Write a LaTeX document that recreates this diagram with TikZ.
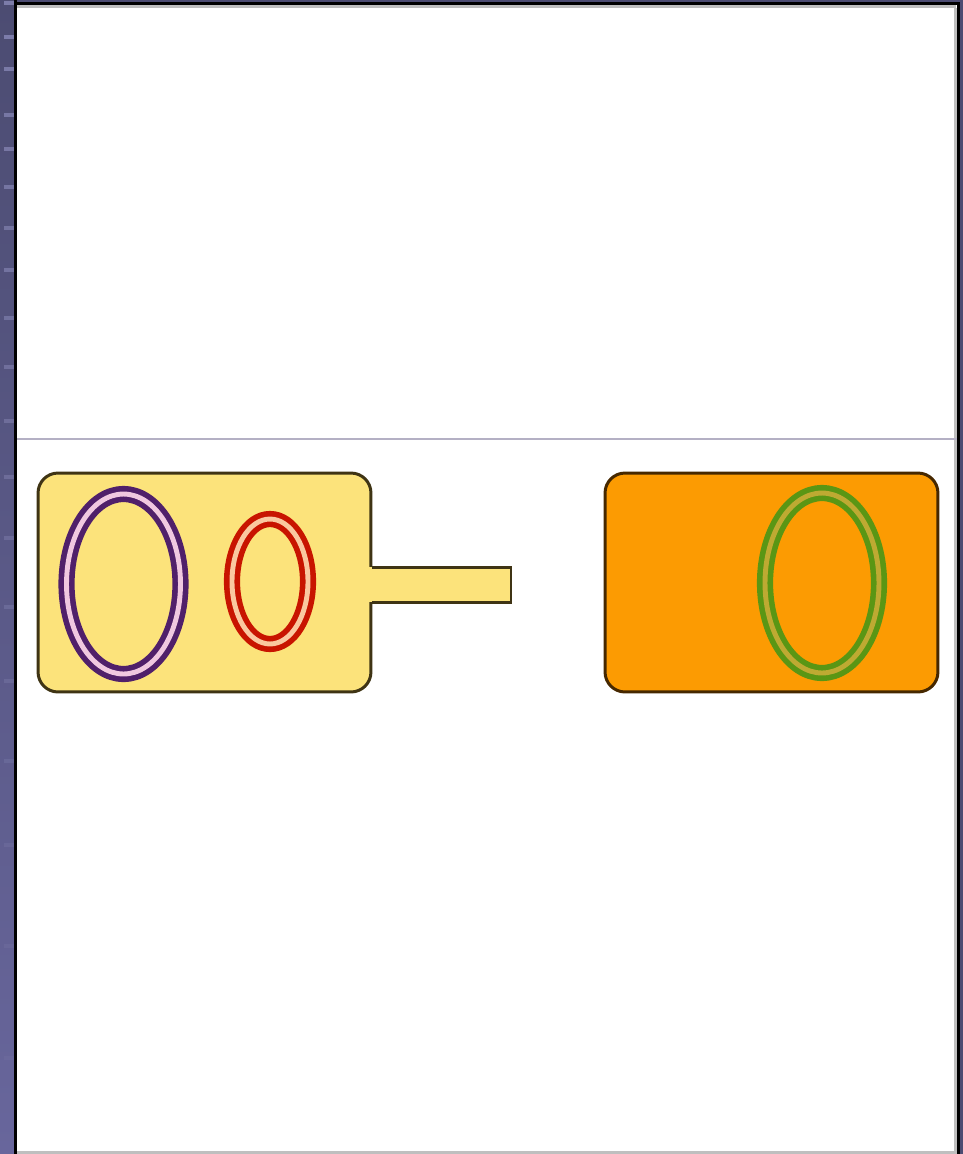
\documentclass[tikz,border=0pt]{standalone}
\usepackage{tikz}
\usetikzlibrary{shapes.geometric, positioning}
\definecolor{stripTop}{HTML}{4C4C72}
\definecolor{stripBot}{HTML}{68669C}
\definecolor{tickCol}{HTML}{8282B0}
\definecolor{ruleCol}{HTML}{B4B0C4}
\definecolor{yellowFill}{HTML}{FCE37B}
\definecolor{yellowLine}{HTML}{3F3414}
\definecolor{orangeFill}{HTML}{FC9B02}
\definecolor{orangeLine}{HTML}{462800}
\definecolor{purpleRing}{HTML}{50206A}
\definecolor{purpleGap}{HTML}{F0C8E0}
\definecolor{redRing}{HTML}{C81400}
\definecolor{redGap}{HTML}{FAC8A0}
\definecolor{greenRing}{HTML}{5A9614}
\definecolor{greenGap}{HTML}{BEAA32}
\tikzset{
    box/.style = {rectangle, rounded corners=0.4cm, minimum width=6.66cm, minimum height=4.38cm, inner sep=0pt, line width=1.7pt},
    yellowbox/.style = {box, draw=yellowLine, fill=yellowFill},
    orangebox/.style = {box, draw=orangeLine, fill=orangeFill},
    ring/.style = {ellipse, inner sep=0pt, line width=3.2pt, double distance=2.8pt},
    bigring/.style = {ring, minimum width=2.28cm, minimum height=3.6cm},
    smallring/.style = {ring, minimum width=1.52cm, minimum height=2.5cm}
}
\begin{document}
\begin{tikzpicture}[x=0.02cm, y=-0.02cm]
    \useasboundingbox (0,0) rectangle (963,1154);
    % frame
    \fill[white] (0,0) rectangle (963,1154);
    \shade[top color=stripTop, bottom color=stripBot] (0,0) rectangle (14,1154);
    \foreach \ty/\op in {3/0.9, 37/0.9, 69/0.85, 115/0.8, 149/0.8, 187/0.75, 228/0.7, 270/0.7, 318/0.65, 367/0.6, 421/0.55, 477/0.5, 538/0.45, 607/0.4, 681/0.35, 761/0.3, 845/0.25, 946/0.2, 1058/0.15}
        \fill[tickCol, opacity=\op] (4,\ty-2) rectangle (14,\ty+2);
    \fill[black] (14,0) rectangle (17,1154);
    \fill[stripTop] (17,0) rectangle (963,2);
    \fill[black] (17,2) rectangle (958,5);
    \fill[black!25] (17,5) rectangle (956,8);
    \fill[black!25] (954,8) rectangle (957,1154);
    \fill[black] (957,2) rectangle (960,1154);
    \fill[stripTop] (960,0) rectangle (963,1154);
    \fill[black!25] (17,1151) rectangle (957,1154);
    \draw[ruleCol, line width=0.7pt] (17,439) -- (957,439);

    % nodes
    \node (body) [yellowbox] at (204.5,582.5) {};
    \node (cap) [orangebox] at (771.5,582.5) {};
    \node (purple) [bigring, draw=purpleRing, double=purpleGap] at (123.5,584) {};
    \node (red) [smallring, draw=redRing, double=redGap] at (270,581.5) {};
    \node (green) [bigring, draw=greenRing, double=greenGap] at (822,583) {};

    % stem
    \coordinate (stemend) at (511,584.5);
    \fill[yellowFill] (360,567) rectangle (stemend |- 0,602);
    \draw[yellowLine, line width=1.7pt] (body.east |- 0,567) -- (stemend |- 0,567) -- (stemend |- 0,602) -- (body.east |- 0,602);
\end{tikzpicture}
\end{document}
